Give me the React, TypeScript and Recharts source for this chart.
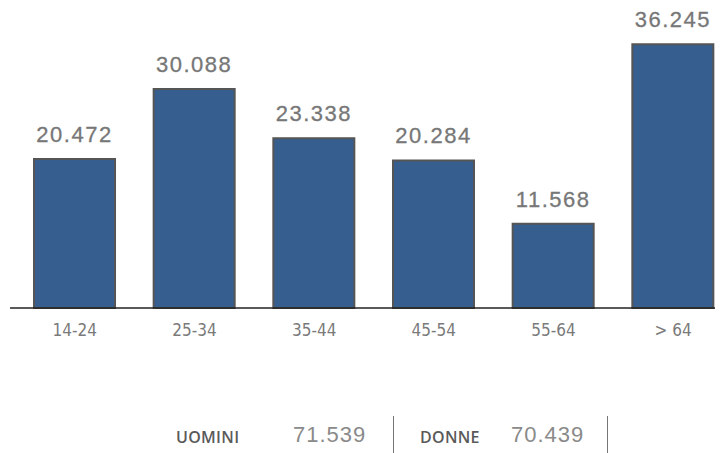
import { Bar, BarChart, LabelList, XAxis, YAxis } from "recharts";

const ageGroups = ["14-24", "25-34", "35-44", "45-54", "55-64", "> 64"];
const residents = [20.472, 30.088, 23.338, 20.284, 11.568, 36.245];

const genderLabels = ["UOMINI", "DONNE"];
const genderTotals = ["71.539", "70.439"];

const data = ageGroups.map((group, i) => ({ group, value: residents[i] }));

const fmt = (v: number) => v.toFixed(3);

export default function App() {
  return (
    <div style={{ position: "relative", width: 715, height: 445, overflow: "hidden" }}>
      <BarChart
        width={730}
        height={340}
        data={data}
        margin={{ top: 9, right: 5, bottom: 10, left: 2 }}
      >
        <XAxis
          dataKey="group"
          height={30}
          padding={{ left: 5, right: 0 }}
          tickLine={false}
          axisLine={{ stroke: "#222", strokeWidth: 1.5 }}
          tick={{ fill: "#7a7a7a", fontSize: 17, fontFamily: "DejaVu Sans Condensed", fontStretch: "condensed" }}
          dy={8}
        />
        <YAxis hide domain={[0, 40]} />
        <Bar
          dataKey="value"
          fill="#365f8f"
          stroke="#555"
          strokeWidth={2}
          barSize={81}
          isAnimationActive={false}
        >
          <LabelList
            dataKey="value"
            position="top"
            offset={17}
            formatter={(v: any) => fmt(Number(v))}
            style={{ fill: "#777", fontSize: 22, fontFamily: "Liberation Sans", letterSpacing: 1.5, stroke: "#777", strokeWidth: 0.3 }}
          />
        </Bar>
      </BarChart>

      {genderLabels.map((label, i) => {
        const x0 = i === 0 ? 168 : 412;
        return (
          <div key={label}>
            <div
              style={{
                position: "absolute",
                left: x0,
                top: 418,
                fontFamily: "Open Sans",
                fontWeight: 600,
                fontSize: 16,
                color: "#5a5a5a",
                letterSpacing: 0.3,
              }}
            >
              {label}
            </div>
            <div
              style={{
                position: "absolute",
                left: i === 0 ? 285 : 503,
                top: 414,
                fontFamily: "Liberation Sans",
                fontSize: 22,
                color: "#8a8a8a",
                letterSpacing: 1,
              }}
            >
              {genderTotals[i]}
            </div>
            <div
              style={{
                position: "absolute",
                left: i === 0 ? 385 : 599,
                top: 408,
                width: 1,
                height: 40,
                background: "#777",
              }}
            />
          </div>
        );
      })}
    </div>
  );
}
